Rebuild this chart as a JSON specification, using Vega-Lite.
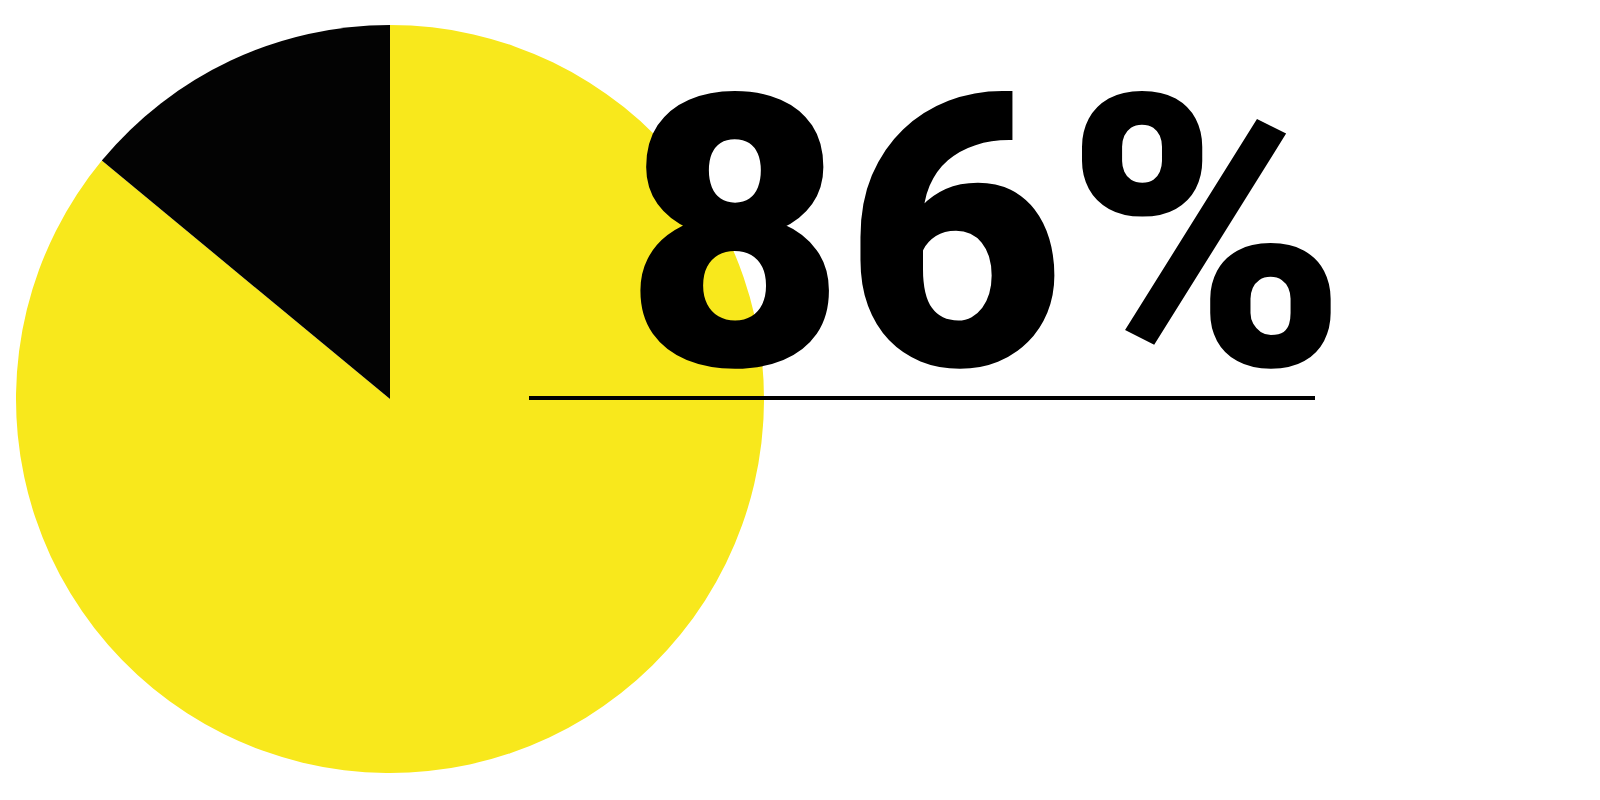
{
  "$schema": "https://vega.github.io/schema/vega-lite/v6.json",
  "width": 1600,
  "height": 800,
  "padding": 0,
  "autosize": {"type": "fit", "contains": "padding"},
  "background": "#ffffff",
  "config": {"view": {"stroke": null}},
  "layer": [
    {
      "data": {"values": [
        {"category": "Yes", "value": 86},
        {"category": "No", "value": 14}
      ]},
      "mark": {"type": "arc", "outerRadius": 374},
      "encoding": {
        "x": {"datum": 390, "type": "quantitative", "scale": {"domain": [0, 1600], "nice": false, "zero": false}, "axis": null},
        "y": {"datum": 399, "type": "quantitative", "scale": {"domain": [0, 800], "nice": false, "zero": false, "reverse": true}, "axis": null},
        "theta": {"field": "value", "type": "quantitative", "stack": true},
        "order": {"field": "value", "type": "quantitative", "sort": "descending"},
        "color": {"field": "category", "type": "nominal", "scale": {"domain": ["Yes", "No"], "range": ["#F8E81C", "#030303"]}, "legend": null}
      }
    },
    {
      "data": {"values": [{"label": "86%"}]},
      "mark": {"type": "rule", "color": "#000000", "strokeWidth": 4},
      "encoding": {
        "x": {"datum": 529, "type": "quantitative"},
        "x2": {"datum": 1315},
        "y": {"datum": 398, "type": "quantitative"}
      }
    },
    {
      "data": {"values": [{"label": "86%"}]},
      "mark": {"type": "text", "font": "Roboto", "fontWeight": 900, "fontSize": 380, "align": "center", "baseline": "alphabetic", "color": "#000000"},
      "encoding": {
        "x": {"datum": 986, "type": "quantitative"},
        "y": {"datum": 365, "type": "quantitative"},
        "text": {"field": "label", "type": "nominal"}
      }
    }
  ]
}
